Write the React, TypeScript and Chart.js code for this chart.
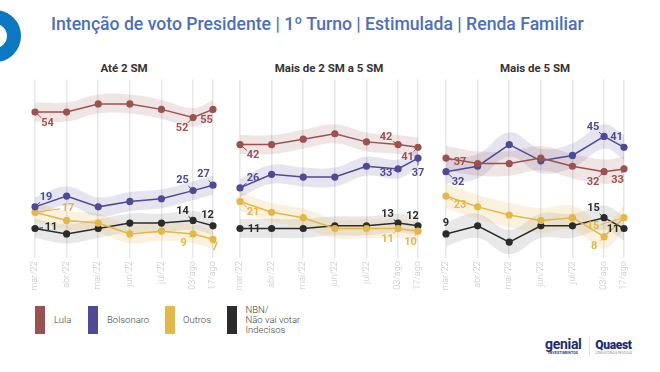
import React, { useEffect, useLayoutEffect, useRef, useState } from "react";
import { Chart, registerables } from "chart.js";
Chart.register(...registerables);

// ---- data ----
const surveyLabels = ["mar/22", "abr/22", "mai/22", "jun/22", "jul/22", "03/ago", "17/ago"];
const surveyOffsets = [0, 1, 2, 3, 4, 5, 5.63]; // months since first survey

const seriesNames = ["Lula", "Bolsonaro", "Outros"];
const nbnLines = ["NBN/", "Não vai votar", "Indecisos"];

const ate2Lula = [54, 54, 57, 57, 55, 52, 55];
const ate2Bolsonaro = [19, 23, 19, 21, 22, 25, 27];
const ate2Outros = [17, 14, 13, 9, 10, 9, 7];
const ate2Nbn = [11, 9, 11, 13, 13, 14, 12];

const de2a5Lula = [42, 42, 44, 46, 43, 42, 41];
const de2a5Bolsonaro = [26, 31, 30, 30, 34, 33, 37];
const de2a5Outros = [21, 17, 15, 11, 11, 11, 10];
const de2a5Nbn = [11, 11, 11, 12, 12, 13, 12];

const mais5Lula = [37, 35, 35, 37, 34, 32, 33];
const mais5Bolsonaro = [32, 34, 42, 36, 38, 45, 41];
const mais5Outros = [23, 19, 16, 14, 15, 8, 15];
const mais5Nbn = [9, 12, 6, 12, 12, 15, 11];

const panelTitles = ["Até 2 SM", "Mais de 2 SM a 5 SM", "Mais de 5 SM"];
const marginOfError = [3.5, 3.5, 4.5];

const titleText = "Intenção de voto Presidente | 1º Turno | Estimulada | Renda Familiar";

// ---- styles ----
const seriesColors = ["#9a5251", "#4f4a94", "#e3b748", "#2b2b2b"];
const bandColors = [
  "rgba(154,82,81,0.15)",
  "rgba(79,74,148,0.15)",
  "rgba(227,183,72,0.18)",
  "rgba(43,43,43,0.11)",
];

// label placements: [series, pointIndex, dx, dy]
const labelPlacements = [
  [
    [0, 0, 12.5, 11], [0, 5, -11, 11], [0, 6, -6.5, 10.5],
    [1, 0, 11, -10], [1, 5, -10.5, -10], [1, 6, -9.5, -10.5],
    [2, 0, 33, -4.5], [2, 5, -9.5, 9], [2, 6, 2, 8],
    [3, 0, 16, -1.5], [3, 5, -10.5, -9.5], [3, 6, -5.5, -10.5],
  ],
  [
    [0, 0, 13, 11], [0, 5, -12, -7.5], [0, 6, -10.5, 9.5],
    [1, 0, 13, -9.5], [1, 5, -12, 4.5], [1, 6, 0, 15],
    [2, 0, 13, 11], [2, 5, -10.5, 11], [2, 6, -7.5, 11.5],
    [3, 0, 14, 0.5], [3, 5, -10.5, -8.5], [3, 6, -5.5, -9.5],
  ],
  [
    [0, 0, 14, 4.5], [0, 5, -11, 11], [0, 6, -6.5, 11],
    [1, 0, 12, 11], [1, 5, -11, -9.5], [1, 6, -7.5, -10],
    [2, 0, 14, 9], [2, 5, -10, 10], [2, 6, -31, 9],
    [3, 0, 0, -10.5], [3, 5, -10.5, -9], [3, 6, -11, 0.5],
  ],
];

const panelSeries = [
  [ate2Lula, ate2Bolsonaro, ate2Outros, ate2Nbn],
  [de2a5Lula, de2a5Bolsonaro, de2a5Outros, de2a5Nbn],
  [mais5Lula, mais5Bolsonaro, mais5Outros, mais5Nbn],
];

const panelLefts = [10, 215, 421];

const valueLabelPlugin = {
  id: "valueLabels",
  afterDatasetsDraw(chart: any, _args: any, opts: any) {
    const ctx = chart.ctx;
    const specs = opts.specs || [];
    ctx.save();
    for (const [s, i, dx, dy] of specs) {
      const dsIndex = s * 3 + 2;
      const meta = chart.getDatasetMeta(dsIndex);
      const pt = meta.data[i];
      const val = chart.data.datasets[dsIndex].data[i].y;
      const color = seriesColors[s];
      const px = pt.x, py = pt.y;
      const tx = px + dx, ty = py + dy;
      const dist = Math.hypot(dx, dy);
      const len = Math.max(0, dist - 8);
      if (len > 1) {
        ctx.strokeStyle = color;
        ctx.lineWidth = 1;
        ctx.beginPath();
        ctx.moveTo(px, py);
        ctx.lineTo(px + (dx / dist) * len, py + (dy / dist) * len);
        ctx.stroke();
      }
      ctx.fillStyle = color;
      ctx.font = "bold 11px Roboto";
      ctx.textAlign = "center";
      ctx.textBaseline = "middle";
      ctx.fillText(String(val), tx, ty);
    }
    ctx.restore();
  },
};

function Panel({ idx }: { idx: number }) {
  const ref = useRef<HTMLCanvasElement>(null);
  useEffect(() => {
    const series = panelSeries[idx];
    const moe = marginOfError[idx];
    const datasets: any[] = [];
    series.forEach((vals, s) => {
      datasets.push({
        data: vals.map((v, i) => ({ x: surveyOffsets[i], y: v + moe })),
        borderWidth: 0,
        pointRadius: 0,
        fill: "+1",
        backgroundColor: bandColors[s],
        tension: 0.4,
        order: 10,
        clip: false,
      });
      datasets.push({
        data: vals.map((v, i) => ({ x: surveyOffsets[i], y: v - moe })),
        borderWidth: 0,
        pointRadius: 0,
        fill: false,
        tension: 0.4,
        order: 10,
        clip: false,
      });
      datasets.push({
        data: vals.map((v, i) => ({ x: surveyOffsets[i], y: v })),
        borderColor: seriesColors[s],
        backgroundColor: seriesColors[s],
        pointBackgroundColor: seriesColors[s],
        pointBorderWidth: 0,
        pointRadius: 3.6,
        borderWidth: 1.5,
        fill: false,
        tension: 0,
        order: 0,
        clip: false,
      });
    });
    const chart = new Chart(ref.current!, {
      type: "line",
      data: { datasets },
      options: {
        animation: false,
        responsive: false,
        events: [],
        layout: { padding: { left: 25, right: 25, top: 19.6, bottom: 0 } },
        plugins: {
          legend: { display: false },
          tooltip: { enabled: false },
          valueLabels: { specs: labelPlacements[idx] },
        } as any,
        scales: {
          x: {
            type: "linear",
            min: 0,
            max: surveyOffsets[surveyOffsets.length - 1],
            afterBuildTicks: (sc: any) => {
              sc.ticks = surveyOffsets.map((v) => ({ value: v }));
            },
            afterFit: (sc: any) => {
              sc.height = 41.7;
            },
            ticks: {
              autoSkip: false,
              minRotation: 90,
              maxRotation: 90,
              padding: 3,
              color: "#c2c2c2",
              font: { family: "Roboto", size: 9, weight: "300" },
              callback: (_v: any, i: number) => surveyLabels[i],
            },
            grid: { color: "#e8e8e8", lineWidth: 1.5, drawTicks: false },
            border: { display: false },
          },
          y: { display: false, min: 0, max: 66 },
        },
      },
      plugins: [valueLabelPlugin],
    } as any);
    return () => chart.destroy();
  }, [idx]);
  return (
    <canvas
      ref={ref}
      width={228}
      height={240}
      style={{ position: "absolute", left: panelLefts[idx], top: 60, width: 228, height: 240 }}
    />
  );
}

function Title() {
  const ref = useRef<HTMLSpanElement>(null);
  const [sx, setSx] = useState(1);
  useLayoutEffect(() => {
    if (ref.current) {
      const w = ref.current.offsetWidth;
      if (w > 0) setSx(533 / w);
    }
  }, []);
  return (
    <span
      ref={ref}
      style={{
        position: "absolute",
        left: 51,
        top: 13,
        fontFamily: "Roboto",
        fontWeight: 500,
        fontSize: 18.5,
        lineHeight: "22px",
        color: "#4d6fba",
        whiteSpace: "nowrap",
        transform: `scaleX(${sx})`,
        transformOrigin: "left top",
      }}
    >
      {titleText}
    </span>
  );
}

const legendItems = [
  { rect: 35, text: 54, color: seriesColors[0], lines: [seriesNames[0]] },
  { rect: 88, text: 107, color: seriesColors[1], lines: [seriesNames[1]] },
  { rect: 165, text: 183, color: seriesColors[2], lines: [seriesNames[2]] },
  { rect: 227, text: 245.5, color: seriesColors[3], lines: nbnLines },
];

export default function App() {
  return (
    <div
      style={{
        position: "fixed",
        left: 0,
        top: 0,
        width: 660,
        height: 372,
        background: "#fff",
        overflow: "hidden",
        fontFamily: "Roboto",
      }}
    >
      <div
        style={{
          position: "absolute",
          left: -31,
          top: 10,
          width: 24,
          height: 24,
          border: "14px solid #0b78c1",
          borderRadius: "50%",
        }}
      />
      <Title />
      {panelTitles.map((t, i) => (
        <div
          key={t}
          style={{
            position: "absolute",
            left: panelLefts[i] + 25,
            width: 178,
            top: 61,
            textAlign: "center",
            fontSize: 11.5,
            fontWeight: 700,
            color: "#333",
            lineHeight: "14px",
          }}
        >
          {t}
        </div>
      ))}
      {[0, 1, 2].map((i) => (
        <Panel key={i} idx={i} />
      ))}
      {legendItems.map((it, k) => (
        <React.Fragment key={k}>
          <div
            style={{
              position: "absolute",
              left: it.rect,
              top: 306,
              width: 10,
              height: 28,
              background: it.color,
            }}
          />
          <div
            style={{
              position: "absolute",
              left: it.text,
              top: 320 - (it.lines.length * 10) / 2,
              fontSize: 9.5,
              fontWeight: 300,
              color: "#444",
              lineHeight: "10px",
              whiteSpace: "nowrap",
            }}
          >
            {it.lines.map((l) => (
              <div key={l}>{l}</div>
            ))}
          </div>
        </React.Fragment>
      ))}
      <div style={{ position: "absolute", left: 545, top: 337, color: "#1f2c73", textAlign: "center" }}>
        <div style={{ fontSize: 14, fontWeight: 700, lineHeight: "14px", letterSpacing: -0.3 }}>genial</div>
        <div style={{ fontSize: 3.5, fontWeight: 700, lineHeight: "5px", letterSpacing: 0.2 }}>INVESTIMENTOS</div>
      </div>
      <div style={{ position: "absolute", left: 589, top: 336, width: 1, height: 20, background: "#dfe3ee" }} />
      <div style={{ position: "absolute", left: 595, top: 339, color: "#1f2c73", textAlign: "center" }}>
        <div style={{ fontSize: 12, fontWeight: 900, lineHeight: "12px", letterSpacing: -0.3 }}>Quaest</div>
        <div style={{ fontSize: 3, lineHeight: "5px", color: "#8890b0" }}>CONSULTORIA &amp; PESQUISA</div>
      </div>
    </div>
  );
}
